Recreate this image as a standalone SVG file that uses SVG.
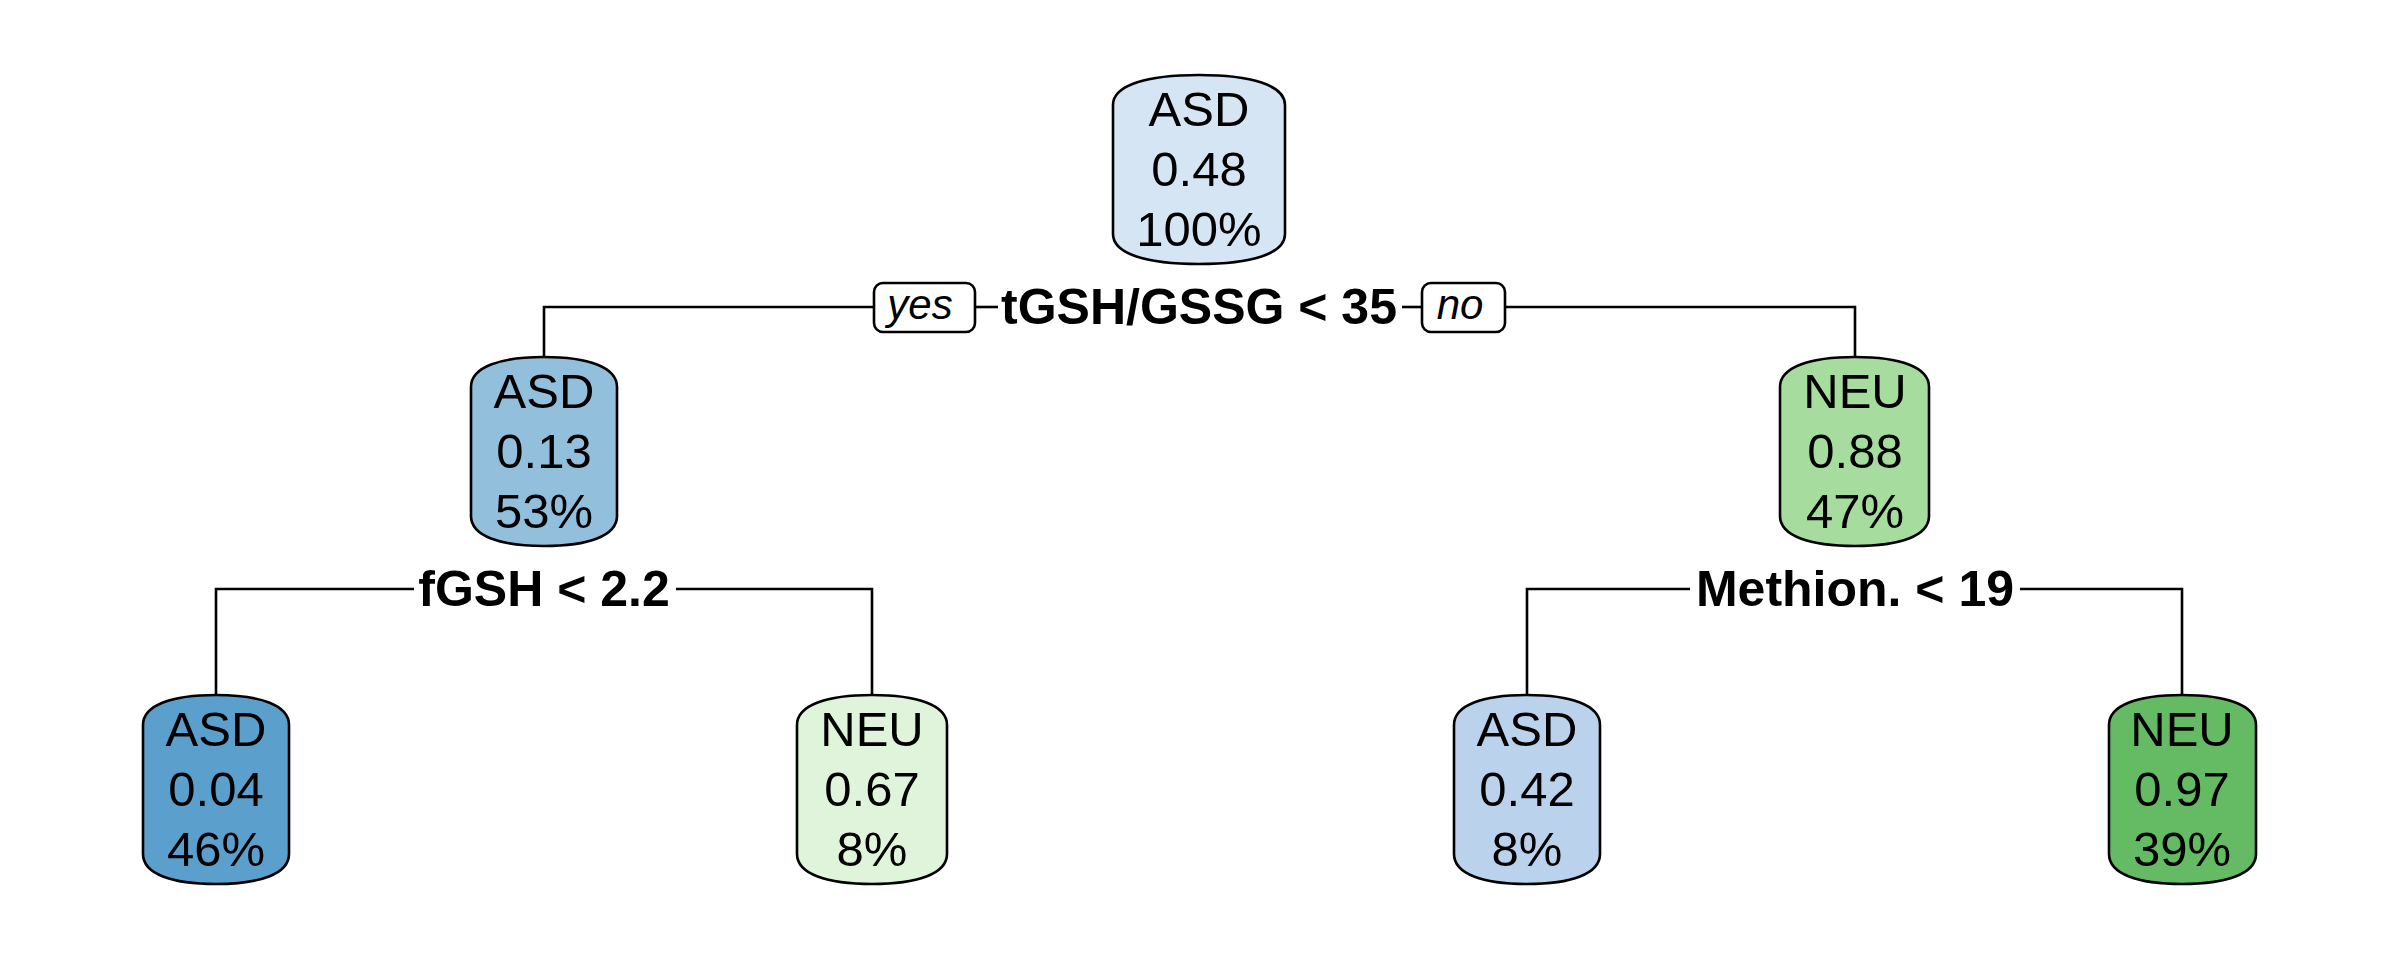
<svg xmlns="http://www.w3.org/2000/svg" width="2400" height="960" viewBox="0 0 2400 960">
<style>
.node path{stroke:#000;stroke-width:2.6}
.node text{font-family:"Liberation Sans",Arial,sans-serif;font-size:49px;fill:#000;text-anchor:middle}
.split{font-family:"Liberation Sans",Arial,sans-serif;font-size:50px;font-weight:bold;fill:#000;text-anchor:middle}
.yn rect{fill:#fff;stroke:#000;stroke-width:2.6}
.yn text{font-family:"Liberation Sans",Arial,sans-serif;font-size:42px;font-style:italic;fill:#000;text-anchor:middle}
#connectors path{fill:none;stroke:#000;stroke-width:2.6}
</style>
<rect width="2400" height="960" fill="#fff"/>
<g id="connectors">
<path d="M544,357 V307 H874"/>
<path d="M975,307 H998"/>
<path d="M1402,307 H1422"/>
<path d="M1505,307 H1855 V357"/>
<path d="M216,695 V589 H414"/>
<path d="M676,589 H872 V695"/>
<path d="M1527,695 V589 H1690"/>
<path d="M2020,589 H2182 V695"/>
</g>
<g id="split-labels">
<text class="split" x="1199" y="324">tGSH/GSSG &lt; 35</text>
<text class="split" x="544" y="606">fGSH &lt; 2.2</text>
<text class="split" x="1855" y="606">Methion. &lt; 19</text>
</g>
<g id="yes" class="yn">
<rect x="874" y="283" width="101" height="49" rx="9"/>
<text x="920" y="319">yes</text>
</g>
<g id="no" class="yn">
<rect x="1422" y="283" width="83" height="49" rx="9"/>
<text x="1460" y="319">no</text>
</g>
<g id="node1" class="node">
<path fill="#D5E5F4" d="M1113,105 C1113,85 1147,75 1199,75 C1251,75 1285,85 1285,105 V234 C1285,254 1251,264 1199,264 C1147,264 1113,254 1113,234 Z"/>
<text x="1199" y="126">ASD</text><text x="1199" y="186">0.48</text><text x="1199" y="246">100%</text>
</g>
<g id="node2" class="node">
<path fill="#92BFDC" d="M471,387 C471,367 500,357 544,357 C588,357 617,367 617,387 V516 C617,536 588,546 544,546 C500,546 471,536 471,516 Z"/>
<text x="544" y="408">ASD</text><text x="544" y="468">0.13</text><text x="544" y="528">53%</text>
</g>
<g id="node3" class="node">
<path fill="#A6DD9E" d="M1780,387 C1780,367 1810,357 1855,357 C1900,357 1929,367 1929,387 V516 C1929,536 1900,546 1855,546 C1810,546 1780,536 1780,516 Z"/>
<text x="1855" y="408">NEU</text><text x="1855" y="468">0.88</text><text x="1855" y="528">47%</text>
</g>
<g id="node4" class="node">
<path fill="#5B9FCC" d="M143,725 C143,705 172,695 216,695 C260,695 289,705 289,725 V854 C289,874 260,884 216,884 C172,884 143,874 143,854 Z"/>
<text x="216" y="746">ASD</text><text x="216" y="806">0.04</text><text x="216" y="866">46%</text>
</g>
<g id="node5" class="node">
<path fill="#E0F3DB" d="M797,725 C797,705 827,695 872,695 C917,695 947,705 947,725 V854 C947,874 917,884 872,884 C827,884 797,874 797,854 Z"/>
<text x="872" y="746">NEU</text><text x="872" y="806">0.67</text><text x="872" y="866">8%</text>
</g>
<g id="node6" class="node">
<path fill="#BAD2EC" d="M1454,725 C1454,705 1483,695 1527,695 C1571,695 1600,705 1600,725 V854 C1600,874 1571,884 1527,884 C1483,884 1454,874 1454,854 Z"/>
<text x="1527" y="746">ASD</text><text x="1527" y="806">0.42</text><text x="1527" y="866">8%</text>
</g>
<g id="node7" class="node">
<path fill="#64BB63" d="M2109,725 C2109,705 2138,695 2182,695 C2226,695 2256,705 2256,725 V854 C2256,874 2226,884 2182,884 C2138,884 2109,874 2109,854 Z"/>
<text x="2182" y="746">NEU</text><text x="2182" y="806">0.97</text><text x="2182" y="866">39%</text>
</g>
</svg>
